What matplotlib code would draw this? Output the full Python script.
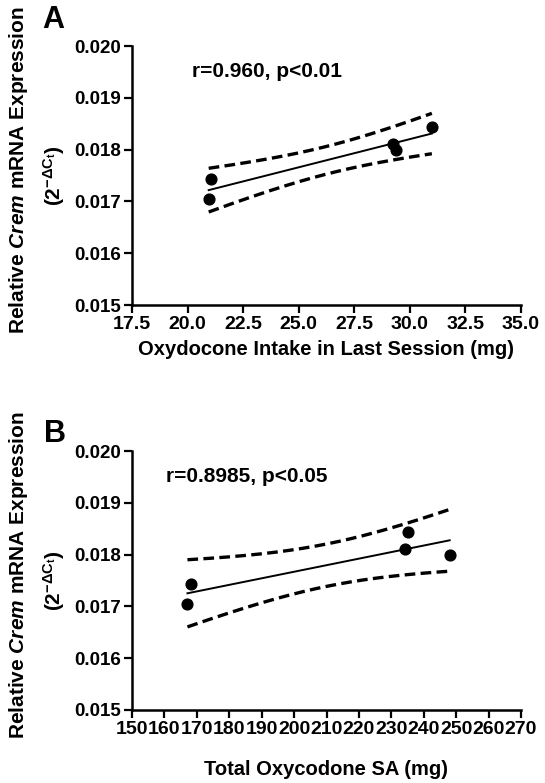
import numpy as np
import matplotlib
matplotlib.use("Agg")
import matplotlib.pyplot as plt

plt.rcParams['font.family'] = ['Liberation Sans', 'DejaVu Sans']
plt.rcParams['font.weight'] = 'bold'
plt.rcParams['mathtext.fontset'] = 'custom'
plt.rcParams['mathtext.rm'] = 'Liberation Sans:bold'
plt.rcParams['mathtext.it'] = 'Liberation Sans:italic:bold'
plt.rcParams['mathtext.bf'] = 'Liberation Sans:bold'

# Data
intake_last = [20.95, 21.04, 29.23, 29.39, 30.99]
total_sa = [167.1, 168.2, 234.1, 248.0, 235.2]
crem_expr = [0.01704, 0.01743, 0.01811, 0.01800, 0.01843]

xticks_a = [17.5, 20.0, 22.5, 25.0, 27.5, 30.0, 32.5, 35.0]
xticks_b = list(range(150, 271, 10))
yticks = [0.015, 0.016, 0.017, 0.018, 0.019, 0.020]

T975_DF3 = 3.182446

fig = plt.figure(figsize=(5.45, 7.83), dpi=100)
W, H = 545, 783

def make_ax(top_px, bot_px):
    left, right = 132, 521
    return fig.add_axes([left / W, 1 - bot_px / H, (right - left) / W, (bot_px - top_px) / H])

def draw(ax, x, y, xticks, xlim, xlabel, annot, annot_xy, letter, letter_xy, xfmt, xtick_size):
    x = np.asarray(x, float); y = np.asarray(y, float)
    n = len(x)
    b, a = np.polyfit(x, y, 1)
    resid = y - (a + b * x)
    s = np.sqrt(np.sum(resid ** 2) / (n - 2))
    sxx = np.sum((x - x.mean()) ** 2)
    xs = np.linspace(x.min(), x.max(), 200)
    yfit = a + b * xs
    se = s * np.sqrt(1 / n + (xs - x.mean()) ** 2 / sxx)
    ax.plot(xs, yfit, color='black', lw=1.4, zorder=2)
    ax.plot(xs, yfit + T975_DF3 * se, color='black', lw=2.4, ls=(0, (3.2, 1.6)), zorder=2)
    ax.plot(xs, yfit - T975_DF3 * se, color='black', lw=2.4, ls=(0, (3.2, 1.6)), zorder=2)
    ax.scatter(x, y, s=60, color='black', zorder=3)

    ax.set_xlim(*xlim)
    ax.set_ylim(0.015, 0.020)
    ax.set_xticks(xticks)
    ax.set_xticklabels([xfmt(v) for v in xticks])
    ax.set_yticks(yticks)
    ax.set_yticklabels([f"{v:.3f}" for v in yticks])
    for sp in ['top', 'right']:
        ax.spines[sp].set_visible(False)
    for sp in ['left', 'bottom']:
        ax.spines[sp].set_linewidth(1.8)
    ax.tick_params(axis='both', direction='out', length=6, width=1.6, labelsize=13.5, pad=2)
    ax.tick_params(axis='x', labelsize=xtick_size)
    for lab in ax.get_xticklabels() + ax.get_yticklabels():
        lab.set_fontweight('bold')
    ax.set_xlabel(xlabel, fontsize=14.5, fontweight='bold', labelpad=5)
    ax.text(-0.293, 0.52, "Relative $\\mathit{Crem}$ mRNA Expression", transform=ax.transAxes,
            rotation=90, ha='center', va='center', fontsize=15, fontweight='bold')
    ax.text(-0.2, 0.5, "(2$^{\\mathrm{-\\Delta C_t}}$)", transform=ax.transAxes,
            rotation=90, ha='center', va='center', fontsize=15, fontweight='bold')
    ax.text(annot_xy[0], annot_xy[1], annot, transform=ax.transAxes, ha='left', va='center',
            fontsize=15, fontweight='bold')
    ax.text(letter_xy[0], letter_xy[1], letter, transform=ax.transAxes, ha='left', va='center',
            fontsize=22, fontweight='bold')

axA = make_ax(46, 305)
draw(axA, intake_last, crem_expr, xticks_a, (17.5, 35.0),
     "Oxydocone Intake in Last Session (mg)", "r=0.960, p<0.01", (0.155, 0.903), "A",
     (-0.232, 1.10), lambda v: f"{v:.1f}", 14)

axB = make_ax(451, 710)
draw(axB, total_sa, crem_expr, xticks_b, (150, 270),
     "Total Oxycodone SA (mg)", "r=0.8985, p<0.05", (0.088, 0.903), "B",
     (-0.226, 1.066), lambda v: f"{v:d}", 14)
axB.xaxis.labelpad = 16

fig.savefig("out.png", dpi=100)
